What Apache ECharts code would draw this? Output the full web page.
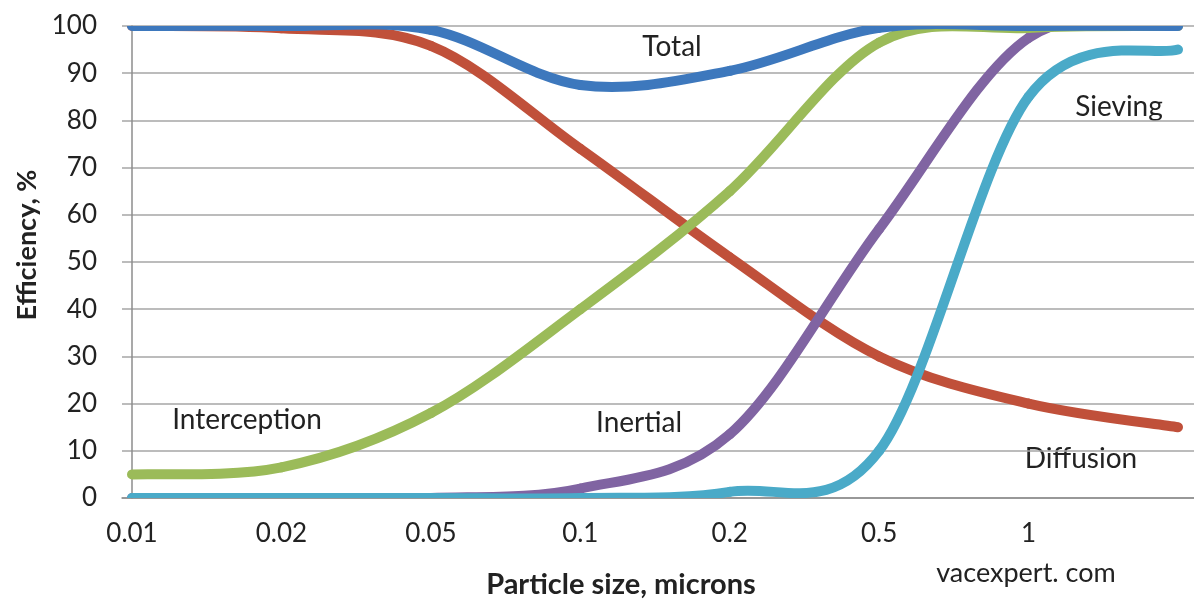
<!DOCTYPE html>
<html>
<head>
<meta charset="utf-8">
<script src="https://cdn.jsdelivr.net/npm/echarts@6/dist/echarts.min.js"></script>
<style>
html,body{margin:0;padding:0;background:#fff;}
#chart{width:1194px;height:599px;}
</style>
</head>
<body>
<div id="chart"></div>
<script>
// Particle size categories (evenly spaced on the chart)
const categories = ['0.01', '0.02', '0.05', '0.1', '0.2', '0.5', '1', '2'];
const labeledTicks = [0, 1, 2, 3, 4, 5, 6];
const yTicks = [0, 10, 20, 30, 40, 50, 60, 70, 80, 90, 100];

// Efficiency, % per mechanism
const total        = [100, 100, 99.2, 87.5, 90.5, 99.6, 100, 100];
const diffusion    = [100, 99.5, 95.8, 74, 51, 30, 20, 15];
const interception = [5, 6.5, 18, 40, 65, 96.5, 99.6, 100];
const inertial     = [0, 0, 0, 2, 13.5, 57, 97.5, 100];
const sieving      = [0, 0, 0, 0, 1.3, 10, 85, 95];

const FONT = 'Lato, "Open Sans", sans-serif';
const TXT = '#222222';

function pairs(vals){ return vals.map((v,i)=>[i, v]); }

// Smoothed line (spreadsheet-style cardinal spline) drawn through the axes' scales
function curve(name, vals, color){
  return {
    name, type:'custom', silent:true, animation:false, clip:true,
    data: pairs(vals),
    encode:{x:0, y:1},
    renderItem:(params, api)=>{
      if (params.dataIndex !== 0) return null;
      const pts = vals.map((v,i)=>api.coord([i, v]));
      const n = pts.length;
      const children = [];
      for (let i=0;i<n-1;i++){
        const p0 = pts[Math.max(i-1,0)], p1 = pts[i], p2 = pts[i+1], p3 = pts[Math.min(i+2,n-1)];
        children.push({
          type:'bezierCurve',
          shape:{
            x1:p1[0], y1:p1[1], x2:p2[0], y2:p2[1],
            cpx1:p1[0]+(p2[0]-p0[0])/6, cpy1:p1[1]+(p2[1]-p0[1])/6,
            cpx2:p2[0]-(p3[0]-p1[0])/6, cpy2:p2[1]-(p3[1]-p1[1])/6
          },
          style:{fill:null, stroke:color, lineWidth:10, lineCap:'round', lineJoin:'round'}
        });
      }
      return {type:'group', children};
    }
  };
}

const chart = echarts.init(document.getElementById('chart'), null, {renderer:'canvas'});

chart.setOption({
  animation:false,
  backgroundColor:'#ffffff',
  grid:{left:122, right:0, top:26, bottom:101, containLabel:false},
  xAxis:{
    type:'value', min:-0.0669, max:7.107,
    axisLine:{show:true, lineStyle:{color:'#8c8c8c', width:1.5}},
    axisTick:{show:false},
    splitLine:{show:false},
    axisLabel:{
      customValues: labeledTicks,
      formatter:(v)=> categories[Math.round(v)] ?? '',
      color:TXT, fontFamily:FONT, fontSize:26, margin:23
    }
  },
  yAxis:{
    type:'value', min:0, max:100, interval:10,
    axisLine:{show:true, lineStyle:{color:'#8c8c8c', width:1.5}},
    axisTick:{show:false},
    splitLine:{show:true, lineStyle:{color:'#a6a6a6', width:1.5}},
    axisLabel:{color:TXT, fontFamily:FONT, fontSize:26, margin:25,
      formatter:(v)=> yTicks.includes(v) ? String(v) : ''}
  },
  series:[
    curve('Diffusion', diffusion, '#c0503a'),
    curve('Inertial', inertial, '#8064a2'),
    curve('Interception', interception, '#9bbb59'),
    curve('Total', total, '#3d78bd'),
    curve('Sieving', sieving, '#4aaac8')
  ],
  graphic:[
    {type:'text', x:672, y:47, style:{text:'Total', fontFamily:FONT, fontSize:28, fill:TXT, align:'center', verticalAlign:'middle'}},
    {type:'text', x:1119, y:107, style:{text:'Sieving', fontFamily:FONT, fontSize:28, fill:TXT, align:'center', verticalAlign:'middle'}},
    {type:'text', x:247, y:420, style:{text:'Interception', fontFamily:FONT, fontSize:28, fill:TXT, align:'center', verticalAlign:'middle'}},
    {type:'text', x:639, y:423, style:{text:'Inertial', fontFamily:FONT, fontSize:28, fill:TXT, align:'center', verticalAlign:'middle'}},
    {type:'text', x:1081, y:459, style:{text:'Diffusion', fontFamily:FONT, fontSize:28, fill:TXT, align:'center', verticalAlign:'middle'}},
    {type:'text', x:1026, y:573, style:{text:'vacexpert. com', fontFamily:FONT, fontSize:27, fill:TXT, align:'center', verticalAlign:'middle'}},
    {type:'text', x:621, y:585, style:{text:'Particle size, microns', fontFamily:FONT, fontSize:29, fontWeight:'bold', fill:TXT, align:'center', verticalAlign:'middle'}},
    {type:'text', x:27, y:245, rotation:Math.PI/2, style:{text:'Efficiency, %', fontFamily:FONT, fontSize:27, fontWeight:'bold', fill:TXT, align:'center', verticalAlign:'middle'}}
  ]
});
</script>
</body>
</html>
